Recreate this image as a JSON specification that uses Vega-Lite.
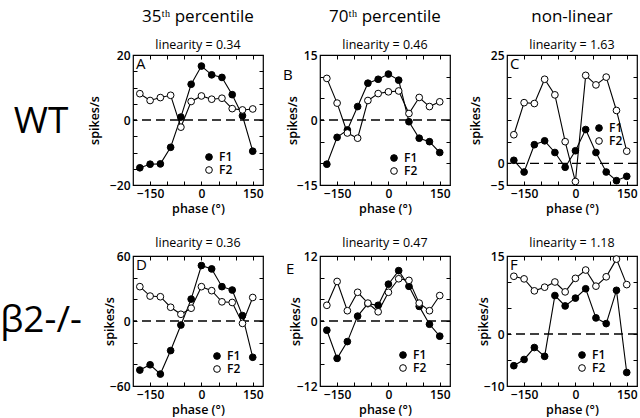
{
  "$schema": "https://vega.github.io/schema/vega-lite/v6.json",
  "background": "white",
  "padding": {"left": 0, "top": 6, "right": 0, "bottom": 0},
  "datasets": {
    "A": [
      {"phase": -180, "series": "F1", "rate": -14.7}, {"phase": -150, "series": "F1", "rate": -13.6}, {"phase": -120, "series": "F1", "rate": -13.5}, {"phase": -90, "series": "F1", "rate": -8.4}, {"phase": -60, "series": "F1", "rate": 0.9}, {"phase": -30, "series": "F1", "rate": 11}, {"phase": 0, "series": "F1", "rate": 16.6}, {"phase": 30, "series": "F1", "rate": 13.9}, {"phase": 60, "series": "F1", "rate": 13.1}, {"phase": 90, "series": "F1", "rate": 7.8}, {"phase": 120, "series": "F1", "rate": 1.3}, {"phase": 150, "series": "F1", "rate": -9.6},
      {"phase": -180, "series": "F2", "rate": 8.1}, {"phase": -150, "series": "F2", "rate": 6.0}, {"phase": -120, "series": "F2", "rate": 6.9}, {"phase": -90, "series": "F2", "rate": 7.6}, {"phase": -60, "series": "F2", "rate": -2.2}, {"phase": -30, "series": "F2", "rate": 5.7}, {"phase": 0, "series": "F2", "rate": 7.4}, {"phase": 30, "series": "F2", "rate": 6.4}, {"phase": 60, "series": "F2", "rate": 6.7}, {"phase": 90, "series": "F2", "rate": 3.5}, {"phase": 120, "series": "F2", "rate": 3.1}, {"phase": 150, "series": "F2", "rate": 3.4}
    ],
    "B": [
      {"phase": -180, "series": "F1", "rate": -10.2}, {"phase": -150, "series": "F1", "rate": -4.0}, {"phase": -120, "series": "F1", "rate": -2.3}, {"phase": -90, "series": "F1", "rate": 3.1}, {"phase": -60, "series": "F1", "rate": 8.5}, {"phase": -30, "series": "F1", "rate": 9.4}, {"phase": 0, "series": "F1", "rate": 10.6}, {"phase": 30, "series": "F1", "rate": 9.2}, {"phase": 60, "series": "F1", "rate": -0.4}, {"phase": 90, "series": "F1", "rate": -4.2}, {"phase": 120, "series": "F1", "rate": -5.0}, {"phase": 150, "series": "F1", "rate": -7.5},
      {"phase": -180, "series": "F2", "rate": 9.6}, {"phase": -150, "series": "F2", "rate": 3.9}, {"phase": -120, "series": "F2", "rate": -3.0}, {"phase": -90, "series": "F2", "rate": -4.2}, {"phase": -60, "series": "F2", "rate": 4.5}, {"phase": -30, "series": "F2", "rate": 6.1}, {"phase": 0, "series": "F2", "rate": 6.5}, {"phase": 30, "series": "F2", "rate": 6.7}, {"phase": 60, "series": "F2", "rate": 1.5}, {"phase": 90, "series": "F2", "rate": 5.2}, {"phase": 120, "series": "F2", "rate": 3.1}, {"phase": 150, "series": "F2", "rate": 4.2}
    ],
    "C": [
      {"phase": -180, "series": "F1", "rate": 0.7}, {"phase": -150, "series": "F1", "rate": -2.0}, {"phase": -120, "series": "F1", "rate": 4.3}, {"phase": -90, "series": "F1", "rate": 5.2}, {"phase": -60, "series": "F1", "rate": 2.5}, {"phase": -30, "series": "F1", "rate": -0.9}, {"phase": 0, "series": "F1", "rate": 2.9}, {"phase": 30, "series": "F1", "rate": 7.8}, {"phase": 60, "series": "F1", "rate": 2.5}, {"phase": 90, "series": "F1", "rate": -2.0}, {"phase": 120, "series": "F1", "rate": -4.0}, {"phase": 150, "series": "F1", "rate": -3.0},
      {"phase": -180, "series": "F2", "rate": 6.6}, {"phase": -150, "series": "F2", "rate": 14.0}, {"phase": -120, "series": "F2", "rate": 13.8}, {"phase": -90, "series": "F2", "rate": 19.4}, {"phase": -60, "series": "F2", "rate": 15.8}, {"phase": -30, "series": "F2", "rate": 5.0}, {"phase": 0, "series": "F2", "rate": -4.2}, {"phase": 30, "series": "F2", "rate": 20.3}, {"phase": 60, "series": "F2", "rate": 18.1}, {"phase": 90, "series": "F2", "rate": 19.9}, {"phase": 120, "series": "F2", "rate": 12.2}, {"phase": 150, "series": "F2", "rate": 2.8}
    ],
    "D": [
      {"phase": -180, "series": "F1", "rate": -45.3}, {"phase": -150, "series": "F1", "rate": -40.4}, {"phase": -120, "series": "F1", "rate": -49}, {"phase": -90, "series": "F1", "rate": -27.3}, {"phase": -60, "series": "F1", "rate": -3.7}, {"phase": -30, "series": "F1", "rate": 20.2}, {"phase": 0, "series": "F1", "rate": 51.2}, {"phase": 30, "series": "F1", "rate": 48.1}, {"phase": 60, "series": "F1", "rate": 31.7}, {"phase": 90, "series": "F1", "rate": 28.6}, {"phase": 120, "series": "F1", "rate": 5.0}, {"phase": 150, "series": "F1", "rate": -33.5},
      {"phase": -180, "series": "F2", "rate": 31.7}, {"phase": -150, "series": "F2", "rate": 23}, {"phase": -120, "series": "F2", "rate": 22.4}, {"phase": -90, "series": "F2", "rate": 12.7}, {"phase": -60, "series": "F2", "rate": 6.2}, {"phase": -30, "series": "F2", "rate": 11.8}, {"phase": 0, "series": "F2", "rate": 31.7}, {"phase": 30, "series": "F2", "rate": 28}, {"phase": 60, "series": "F2", "rate": 17.7}, {"phase": 90, "series": "F2", "rate": 17.1}, {"phase": 120, "series": "F2", "rate": -2.2}, {"phase": 150, "series": "F2", "rate": 21.7}
    ],
    "E": [
      {"phase": -180, "series": "F1", "rate": -1.7}, {"phase": -150, "series": "F1", "rate": -6.9}, {"phase": -120, "series": "F1", "rate": -3.8}, {"phase": -90, "series": "F1", "rate": 0.9}, {"phase": -60, "series": "F1", "rate": 3.2}, {"phase": -30, "series": "F1", "rate": 2.9}, {"phase": 0, "series": "F1", "rate": 6.8}, {"phase": 30, "series": "F1", "rate": 9.3}, {"phase": 60, "series": "F1", "rate": 6.4}, {"phase": 90, "series": "F1", "rate": 2.7}, {"phase": 120, "series": "F1", "rate": -0.6}, {"phase": 150, "series": "F1", "rate": -2.8},
      {"phase": -180, "series": "F2", "rate": 2.9}, {"phase": -150, "series": "F2", "rate": 7.3}, {"phase": -120, "series": "F2", "rate": 1.9}, {"phase": -90, "series": "F2", "rate": 5.3}, {"phase": -60, "series": "F2", "rate": 3.3}, {"phase": -30, "series": "F2", "rate": 1.7}, {"phase": 0, "series": "F2", "rate": 5.3}, {"phase": 30, "series": "F2", "rate": 7.8}, {"phase": 60, "series": "F2", "rate": 7.5}, {"phase": 90, "series": "F2", "rate": 3.3}, {"phase": 120, "series": "F2", "rate": 1.9}, {"phase": 150, "series": "F2", "rate": 4.7}
    ],
    "F": [
      {"phase": -180, "series": "F1", "rate": -6.1}, {"phase": -150, "series": "F1", "rate": -4.9}, {"phase": -120, "series": "F1", "rate": -2.6}, {"phase": -90, "series": "F1", "rate": -4.3}, {"phase": -60, "series": "F1", "rate": 7.4}, {"phase": -30, "series": "F1", "rate": 5.4}, {"phase": 0, "series": "F1", "rate": 6.9}, {"phase": 30, "series": "F1", "rate": 8.7}, {"phase": 60, "series": "F1", "rate": 3.1}, {"phase": 90, "series": "F1", "rate": 2.0}, {"phase": 120, "series": "F1", "rate": 8.4}, {"phase": 150, "series": "F1", "rate": -7.4},
      {"phase": -180, "series": "F2", "rate": 11.1}, {"phase": -150, "series": "F2", "rate": 10.6}, {"phase": -120, "series": "F2", "rate": 8.3}, {"phase": -90, "series": "F2", "rate": 9.0}, {"phase": -60, "series": "F2", "rate": 10.0}, {"phase": -30, "series": "F2", "rate": 8.1}, {"phase": 0, "series": "F2", "rate": 10.7}, {"phase": 30, "series": "F2", "rate": 12.3}, {"phase": 60, "series": "F2", "rate": 9.2}, {"phase": 90, "series": "F2", "rate": 11.0}, {"phase": 120, "series": "F2", "rate": 14.4}, {"phase": 150, "series": "F2", "rate": 9.5}
    ]
  },
  "spacing": 19,
  "resolve": {"scale": {"fill": "independent"}},
  "vconcat": [
    {
      "spacing": 57,
      "bounds": "flush",
      "resolve": {"scale": {"fill": "independent"}},
      "hconcat": [
        {
          "width": 70, "height": 130,
          "view": {"stroke": null},
          "data": {"values": [{"label": "WT"}]},
          "mark": {"type": "text", "fontSize": 37, "align": "center", "baseline": "middle", "dy": 2},
          "encoding": {"text": {"field": "label"}}
        },
        {
          "width": 130, "height": 130,
          "title": {"text": "35ᵗʰ percentile", "subtitle": "linearity = 0.34", "fontSize": 17, "subtitleFontSize": 12.5, "subtitlePadding": 13, "offset": -3, "frame": "group"},
          "data": {"name": "A"},
          "resolve": {"axis": {"x": "independent", "y": "independent"}},
          "layer": [
            {"data": {"values": [{}]}, "mark": {"type": "rule", "strokeDash": [9, 5], "strokeWidth": 1.3, "color": "black"}, "encoding": {"y": {"datum": 0, "type": "quantitative", "axis": null}}},
            {"mark": {"type": "line", "color": "black", "strokeWidth": 1.1}, "encoding": {
              "x": {"field": "phase", "type": "quantitative", "scale": {"domain": [-200, 180], "nice": false, "zero": false}, "axis": {"values": [-150, -100, -50, 0, 50, 100, 150], "labelExpr": "datum.value == 0 || abs(datum.value) == 150 ? datum.label : ''", "title": "phase  (°)"}},
              "y": {"field": "rate", "type": "quantitative", "scale": {"domain": [-20, 20], "nice": false}, "axis": {"values": [-20, -15, -10, -5, 0, 5, 10, 15, 20], "labelExpr": "datum.value == 0 || abs(datum.value) == 20 ? datum.label : ''", "title": "spikes/s", "titlePadding": 22}},
              "detail": {"field": "series"}}},
            {"mark": {"type": "circle", "size": 45, "opacity": 1, "stroke": "black", "strokeWidth": 1}, "encoding": {
              "x": {"field": "phase", "type": "quantitative", "axis": {"orient": "top", "values": [-150, -100, -50, 0, 50, 100, 150], "labels": false, "title": null}},
              "y": {"field": "rate", "type": "quantitative", "axis": {"orient": "right", "values": [-20, -15, -10, -5, 0, 5, 10, 15, 20], "labels": false, "title": null}},
              "fill": {"field": "series", "type": "nominal", "scale": {"domain": ["F1", "F2"], "range": ["black", "white"]}, "legend": {"title": null, "orient": "none", "legendX": 70, "legendY": 96}}}},
            {"data": {"values": [{}]}, "mark": {"type": "text", "text": "A", "align": "left", "baseline": "top", "dx": 3, "dy": 2, "fontSize": 15}, "encoding": {"x": {"datum": -200, "type": "quantitative", "axis": null}, "y": {"datum": 20, "type": "quantitative", "axis": null}}}
          ]
        },
        {
          "width": 130, "height": 130,
          "title": {"text": "70ᵗʰ percentile", "subtitle": "linearity = 0.46", "fontSize": 17, "subtitleFontSize": 12.5, "subtitlePadding": 13, "offset": -3, "frame": "group"},
          "data": {"name": "B"},
          "resolve": {"axis": {"x": "independent", "y": "independent"}},
          "layer": [
            {"data": {"values": [{}]}, "mark": {"type": "rule", "strokeDash": [9, 5], "strokeWidth": 1.3, "color": "black"}, "encoding": {"y": {"datum": 0, "type": "quantitative", "axis": null}}},
            {"mark": {"type": "line", "color": "black", "strokeWidth": 1.1}, "encoding": {
              "x": {"field": "phase", "type": "quantitative", "scale": {"domain": [-200, 180], "nice": false, "zero": false}, "axis": {"values": [-150, -100, -50, 0, 50, 100, 150], "labelExpr": "datum.value == 0 || abs(datum.value) == 150 ? datum.label : ''", "title": "phase  (°)"}},
              "y": {"field": "rate", "type": "quantitative", "scale": {"domain": [-15, 15], "nice": false}, "axis": {"values": [-15, -10, -5, 0, 5, 10, 15], "labelExpr": "datum.value == 0 || abs(datum.value) == 15 ? datum.label : ''", "title": "spikes/s", "titlePadding": 11}},
              "detail": {"field": "series"}}},
            {"mark": {"type": "circle", "size": 45, "opacity": 1, "stroke": "black", "strokeWidth": 1}, "encoding": {
              "x": {"field": "phase", "type": "quantitative", "axis": {"orient": "top", "values": [-150, -100, -50, 0, 50, 100, 150], "labels": false, "title": null}},
              "y": {"field": "rate", "type": "quantitative", "axis": {"orient": "right", "values": [-15, -10, -5, 0, 5, 10, 15], "labels": false, "title": null}},
              "fill": {"field": "series", "type": "nominal", "scale": {"domain": ["F1", "F2"], "range": ["black", "white"]}, "legend": {"title": null, "orient": "none", "legendX": 68, "legendY": 97}}}},
            {"data": {"values": [{}]}, "mark": {"type": "text", "text": "B", "align": "left", "baseline": "top", "dx": -37, "dy": 13, "fontSize": 15}, "encoding": {"x": {"datum": -200, "type": "quantitative", "axis": null}, "y": {"datum": 15, "type": "quantitative", "axis": null}}}
          ]
        },
        {
          "width": 130, "height": 130,
          "title": {"text": "non-linear", "subtitle": "linearity = 1.63", "fontSize": 17, "subtitleFontSize": 12.5, "subtitlePadding": 13, "offset": -3, "frame": "group"},
          "data": {"name": "C"},
          "resolve": {"axis": {"x": "independent", "y": "independent"}},
          "layer": [
            {"data": {"values": [{}]}, "mark": {"type": "rule", "strokeDash": [9, 5], "strokeWidth": 1.3, "color": "black"}, "encoding": {"y": {"datum": 0, "type": "quantitative", "axis": null}}},
            {"mark": {"type": "line", "color": "black", "strokeWidth": 1.1}, "encoding": {
              "x": {"field": "phase", "type": "quantitative", "scale": {"domain": [-200, 180], "nice": false, "zero": false}, "axis": {"values": [-150, -100, -50, 0, 50, 100, 150], "labelExpr": "datum.value == 0 || abs(datum.value) == 150 ? datum.label : ''", "title": "phase  (°)"}},
              "y": {"field": "rate", "type": "quantitative", "scale": {"domain": [-5, 25], "nice": false}, "axis": {"values": [-5, 0, 5, 10, 15, 20, 25], "labelExpr": "datum.value == 0 || datum.value == -5 || datum.value == 25 ? datum.label : ''", "title": "spikes/s", "titlePadding": 15}},
              "detail": {"field": "series"}}},
            {"mark": {"type": "circle", "size": 45, "opacity": 1, "stroke": "black", "strokeWidth": 1}, "encoding": {
              "x": {"field": "phase", "type": "quantitative", "axis": {"orient": "top", "values": [-150, -100, -50, 0, 50, 100, 150], "labels": false, "title": null}},
              "y": {"field": "rate", "type": "quantitative", "axis": {"orient": "right", "values": [-5, 0, 5, 10, 15, 20, 25], "labels": false, "title": null}},
              "fill": {"field": "series", "type": "nominal", "scale": {"domain": ["F1", "F2"], "range": ["black", "white"]}, "legend": {"title": null, "orient": "none", "legendX": 86, "legendY": 67}}}},
            {"data": {"values": [{}]}, "mark": {"type": "text", "text": "C", "align": "left", "baseline": "top", "dx": 3, "dy": 2, "fontSize": 15}, "encoding": {"x": {"datum": -200, "type": "quantitative", "axis": null}, "y": {"datum": 25, "type": "quantitative", "axis": null}}}
          ]
        }
      ]
    },
    {
      "spacing": 57,
      "bounds": "flush",
      "resolve": {"scale": {"fill": "independent"}},
      "hconcat": [
        {
          "width": 70, "height": 130,
          "view": {"stroke": null},
          "data": {"values": [{"label": "β2-/-"}]},
          "mark": {"type": "text", "fontSize": 37, "align": "center", "baseline": "middle"},
          "encoding": {"text": {"field": "label"}}
        },
        {
          "width": 130, "height": 130,
          "title": {"text": "linearity = 0.36", "fontSize": 12.5, "offset": 1, "frame": "group"},
          "data": {"name": "D"},
          "resolve": {"axis": {"x": "independent", "y": "independent"}},
          "layer": [
            {"data": {"values": [{}]}, "mark": {"type": "rule", "strokeDash": [9, 5], "strokeWidth": 1.3, "color": "black"}, "encoding": {"y": {"datum": 0, "type": "quantitative", "axis": null}}},
            {"mark": {"type": "line", "color": "black", "strokeWidth": 1.1}, "encoding": {
              "x": {"field": "phase", "type": "quantitative", "scale": {"domain": [-200, 180], "nice": false, "zero": false}, "axis": {"values": [-150, -100, -50, 0, 50, 100, 150], "labelExpr": "datum.value == 0 || abs(datum.value) == 150 ? datum.label : ''", "title": "phase  (°)"}},
              "y": {"field": "rate", "type": "quantitative", "scale": {"domain": [-60, 60], "nice": false}, "axis": {"values": [-60, -40, -20, 0, 20, 40, 60], "labelExpr": "datum.value == 0 || abs(datum.value) == 60 ? datum.label : ''", "title": "spikes/s", "titlePadding": 7}},
              "detail": {"field": "series"}}},
            {"mark": {"type": "circle", "size": 45, "opacity": 1, "stroke": "black", "strokeWidth": 1}, "encoding": {
              "x": {"field": "phase", "type": "quantitative", "axis": {"orient": "top", "values": [-150, -100, -50, 0, 50, 100, 150], "labels": false, "title": null}},
              "y": {"field": "rate", "type": "quantitative", "axis": {"orient": "right", "values": [-60, -40, -20, 0, 20, 40, 60], "labels": false, "title": null}},
              "fill": {"field": "series", "type": "nominal", "scale": {"domain": ["F1", "F2"], "range": ["black", "white"]}, "legend": {"title": null, "orient": "none", "legendX": 78, "legendY": 94}}}},
            {"data": {"values": [{}]}, "mark": {"type": "text", "text": "D", "align": "left", "baseline": "top", "dx": 3, "dy": 2, "fontSize": 15}, "encoding": {"x": {"datum": -200, "type": "quantitative", "axis": null}, "y": {"datum": 60, "type": "quantitative", "axis": null}}}
          ]
        },
        {
          "width": 130, "height": 130,
          "title": {"text": "linearity = 0.47", "fontSize": 12.5, "offset": 1, "frame": "group"},
          "data": {"name": "E"},
          "resolve": {"axis": {"x": "independent", "y": "independent"}},
          "layer": [
            {"data": {"values": [{}]}, "mark": {"type": "rule", "strokeDash": [9, 5], "strokeWidth": 1.3, "color": "black"}, "encoding": {"y": {"datum": 0, "type": "quantitative", "axis": null}}},
            {"mark": {"type": "line", "color": "black", "strokeWidth": 1.1}, "encoding": {
              "x": {"field": "phase", "type": "quantitative", "scale": {"domain": [-200, 180], "nice": false, "zero": false}, "axis": {"values": [-150, -100, -50, 0, 50, 100, 150], "labelExpr": "datum.value == 0 || abs(datum.value) == 150 ? datum.label : ''", "title": "phase  (°)"}},
              "y": {"field": "rate", "type": "quantitative", "scale": {"domain": [-12, 12], "nice": false}, "axis": {"values": [-12, -8, -4, 0, 4, 8, 12], "labelExpr": "datum.value == 0 || abs(datum.value) == 12 ? datum.label : ''", "title": "spikes/s", "titlePadding": 8}},
              "detail": {"field": "series"}}},
            {"mark": {"type": "circle", "size": 45, "opacity": 1, "stroke": "black", "strokeWidth": 1}, "encoding": {
              "x": {"field": "phase", "type": "quantitative", "axis": {"orient": "top", "values": [-150, -100, -50, 0, 50, 100, 150], "labels": false, "title": null}},
              "y": {"field": "rate", "type": "quantitative", "axis": {"orient": "right", "values": [-12, -8, -4, 0, 4, 8, 12], "labels": false, "title": null}},
              "fill": {"field": "series", "type": "nominal", "scale": {"domain": ["F1", "F2"], "range": ["black", "white"]}, "legend": {"title": null, "orient": "none", "legendX": 77, "legendY": 93}}}},
            {"data": {"values": [{}]}, "mark": {"type": "text", "text": "E", "align": "left", "baseline": "top", "dx": -34, "dy": 6, "fontSize": 15}, "encoding": {"x": {"datum": -200, "type": "quantitative", "axis": null}, "y": {"datum": 12, "type": "quantitative", "axis": null}}}
          ]
        },
        {
          "width": 130, "height": 130,
          "title": {"text": "linearity = 1.18", "fontSize": 12.5, "offset": 1, "frame": "group"},
          "data": {"name": "F"},
          "resolve": {"axis": {"x": "independent", "y": "independent"}},
          "layer": [
            {"data": {"values": [{}]}, "mark": {"type": "rule", "strokeDash": [9, 5], "strokeWidth": 1.3, "color": "black"}, "encoding": {"y": {"datum": 0, "type": "quantitative", "axis": null}}},
            {"mark": {"type": "line", "color": "black", "strokeWidth": 1.1}, "encoding": {
              "x": {"field": "phase", "type": "quantitative", "scale": {"domain": [-200, 180], "nice": false, "zero": false}, "axis": {"values": [-150, -100, -50, 0, 50, 100, 150], "labelExpr": "datum.value == 0 || abs(datum.value) == 150 ? datum.label : ''", "title": "phase  (°)"}},
              "y": {"field": "rate", "type": "quantitative", "scale": {"domain": [-10, 15], "nice": false}, "axis": {"values": [-10, -5, 0, 5, 10, 15], "labelExpr": "datum.value == 0 || datum.value == -10 || datum.value == 15 ? datum.label : ''", "title": "spikes/s", "titlePadding": 7}},
              "detail": {"field": "series"}}},
            {"mark": {"type": "circle", "size": 45, "opacity": 1, "stroke": "black", "strokeWidth": 1}, "encoding": {
              "x": {"field": "phase", "type": "quantitative", "axis": {"orient": "top", "values": [-150, -100, -50, 0, 50, 100, 150], "labels": false, "title": null}},
              "y": {"field": "rate", "type": "quantitative", "axis": {"orient": "right", "values": [-10, -5, 0, 5, 10, 15], "labels": false, "title": null}},
              "fill": {"field": "series", "type": "nominal", "scale": {"domain": ["F1", "F2"], "range": ["black", "white"]}, "legend": {"title": null, "orient": "none", "legendX": 69, "legendY": 93}}}},
            {"data": {"values": [{}]}, "mark": {"type": "text", "text": "F", "align": "left", "baseline": "top", "dx": 3, "dy": 2, "fontSize": 15}, "encoding": {"x": {"datum": -200, "type": "quantitative", "axis": null}, "y": {"datum": 15, "type": "quantitative", "axis": null}}}
          ]
        }
      ]
    }
  ],
  "config": {
    "font": "Open Sans",
    "view": {"stroke": "black", "strokeWidth": 1.2},
    "axis": {"grid": false, "domain": false, "tickColor": "black", "tickSize": -4, "tickWidth": 1, "labelFontSize": 12, "labelFontWeight": 600, "labelColor": "black", "labelPadding": 7, "titleFontSize": 12.5, "titleFontWeight": 600, "titleColor": "black"},
    "axisX": {"titlePadding": 3},
    "axisY": {"minExtent": 10, "maxExtent": 10},
    "legend": {"symbolType": "circle", "symbolSize": 45, "symbolStrokeColor": "black", "symbolStrokeWidth": 1, "symbolOpacity": 1, "labelFontSize": 12, "labelFontWeight": 600, "labelColor": "black", "rowPadding": 1, "labelOffset": 4, "padding": 0},
    "title": {"fontWeight": "normal", "color": "black", "subtitleColor": "black", "subtitleFont": "Open Sans", "subtitleFontWeight": "normal"},
    "text": {"color": "black"}
  }
}
